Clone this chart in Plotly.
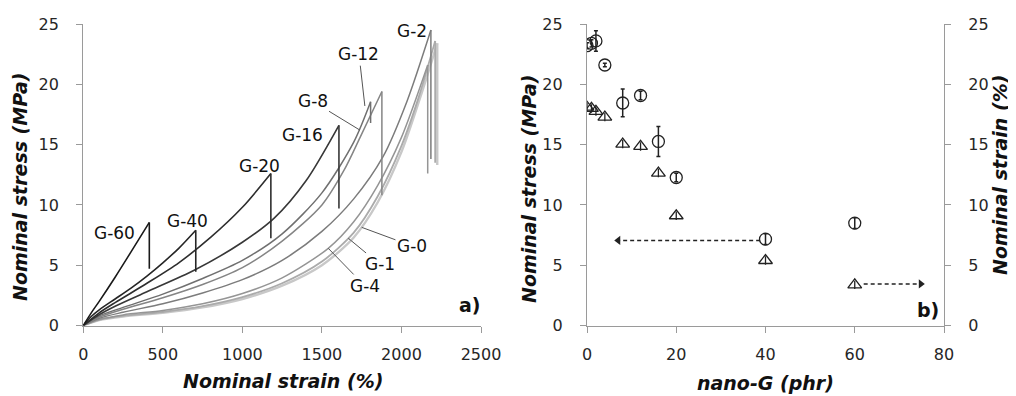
import plotly.graph_objects as go

# ---------------- Panel a: stress-strain curves (last point = drop after break) ----------------
g60_strain = [0, 50, 100, 200, 300, 415, 415]
g60_stress = [0, 1.05, 2.0, 4.0, 6.1, 8.55, 4.7]
g40_strain = [0, 50, 100, 200, 300, 400, 500, 600, 707, 707]
g40_stress = [0, 0.75, 1.3, 2.2, 3.1, 4.1, 5.2, 6.4, 7.9, 4.46]
g20_strain = [0, 100, 200, 400, 600, 800, 1000, 1179, 1179]
g20_stress = [0, 1.05, 1.9, 3.5, 5.2, 7.3, 9.8, 12.6, 7.23]
g16_strain = [0, 100, 200, 400, 700, 1000, 1200, 1400, 1607, 1607]
g16_stress = [0, 0.9, 1.6, 2.8, 4.6, 6.9, 8.9, 12.0, 16.6, 9.7]
g12_strain = [0, 100, 250, 500, 750, 1000, 1250, 1500, 1700, 1806, 1806]
g12_stress = [0, 0.8, 1.5, 2.6, 3.9, 5.4, 7.6, 11.0, 15.2, 18.55, 16.8]
g8_strain = [0, 100, 250, 500, 750, 1000, 1250, 1500, 1640, 1740, 1877, 1877]
g8_stress = [0, 0.7, 1.35, 2.3, 3.4, 4.8, 7.0, 10.0, 12.9, 15.6, 19.4, 10.8]
g2_strain = [0, 100, 250, 500, 750, 1000, 1250, 1500, 1700, 1884, 2035, 2185, 2185]
g2_stress = [0, 0.6, 1.1, 1.8, 2.7, 3.8, 5.4, 7.8, 10.5, 14.0, 18.6, 24.5, 13.8]
g4_strain = [0, 100, 250, 500, 750, 1000, 1250, 1540, 1700, 1850, 2000, 2165, 2165]
g4_stress = [0, 0.5, 0.88, 1.25, 1.8, 2.65, 3.95, 6.4, 8.6, 11.6, 15.6, 21.6, 12.6]
g1_strain = [0, 100, 250, 500, 750, 1000, 1250, 1500, 1700, 1850, 2000, 2110, 2212, 2212]
g1_stress = [0, 0.47, 0.8, 1.12, 1.6, 2.35, 3.5, 5.3, 7.7, 10.7, 14.9, 19.0, 23.6, 13.5]
g0_strain = [0, 100, 250, 500, 750, 1000, 1250, 1500, 1700, 1850, 2000, 2120, 2225, 2225]
g0_stress = [0, 0.45, 0.75, 1.05, 1.5, 2.2, 3.3, 5.0, 7.3, 10.2, 14.4, 19.0, 23.4, 13.3]

curve_names = ["G-0", "G-1", "G-4", "G-2", "G-8", "G-12", "G-16", "G-20", "G-40", "G-60"]
curve_strains = [g0_strain, g1_strain, g4_strain, g2_strain, g8_strain, g12_strain,
                 g16_strain, g20_strain, g40_strain, g60_strain]
curve_stresses = [g0_stress, g1_stress, g4_stress, g2_stress, g8_stress, g12_stress,
                  g16_stress, g20_stress, g40_stress, g60_stress]
curve_colors = ["#c8c8c8", "#ababab", "#959595", "#7c7c7c", "#858585", "#707070",
                "#383838", "#2e2e2e", "#262626", "#1a1a1a"]
curve_widths = [2.4, 1.8, 1.5, 1.5, 1.5, 1.5, 1.6, 1.6, 1.6, 1.6]

# label text positions (data coords) and pointer tips
label_text = ["G-60", "G-40", "G-20", "G-16", "G-8", "G-12", "G-2", "G-0", "G-1", "G-4"]
label_x = [199, 658, 1105, 1381, 1441, 1733, 2066, 2066, 1865, 1770]
label_y = [7.67, 8.67, 13.23, 15.8, 18.6, 22.5, 24.4, 6.6, 5.06, 3.28]
tip_x = [None, None, None, None, 1739, 1770, None, 1750, 1666, 1540]
tip_y = [None, None, None, None, 16.2, 18.2, None, 8.14, 7.23, 6.4]

# ---------------- Panel b: properties vs nano-G content ----------------
nano_g = [0, 1, 2, 4, 8, 12, 16, 20, 40, 60]
stress_mpa = [23.2, 23.4, 23.6, 21.6, 18.45, 19.07, 15.26, 12.27, 7.16, 8.49]
stress_err = [0.25, 0.3, 0.85, 0.15, 1.15, 0.35, 1.25, 0.35, 0.45, 0.45]
strain_hundreds = [18.1, 18.0, 17.75, 17.28, 15.04, 14.85, 12.64, 9.1, 5.39, 3.37]
strain_err = [0.35, 0.35, 0.35, 0.35, 0.35, 0.35, 0.35, 0.35, 0.35, 0.35]

arrow_left_x = [38.8, 7.0]
arrow_left_y = [7.05, 7.05]
arrow_right_x = [62.0, 74.8]
arrow_right_y = [3.45, 3.45]

FONT = "DejaVu Sans"
TXT = "#262626"
AX = "#9a9a9a"

fig = go.Figure()

for name, xs, ys, col, w in zip(curve_names, curve_strains, curve_stresses, curve_colors, curve_widths):
    fig.add_trace(go.Scatter(x=xs[:-1], y=ys[:-1], mode="lines", line=dict(color=col, width=w, shape="spline", smoothing=0.8),
                             xaxis="x", yaxis="y", showlegend=False, name=name))
    fig.add_trace(go.Scatter(x=xs[-2:], y=ys[-2:], mode="lines", line=dict(color=col, width=w),
                             xaxis="x", yaxis="y", showlegend=False, name=name + " break"))

# Panel b traces
fig.add_trace(go.Scatter(x=arrow_left_x, y=arrow_left_y, mode="lines", line=dict(color="#222", width=1.5, dash="4px,3px"),
                         xaxis="x2", yaxis="y2", showlegend=False))
fig.add_trace(go.Scatter(x=arrow_left_x[-1:], y=arrow_left_y[-1:], mode="markers",
                         marker=dict(symbol="triangle-left", size=8, color="#222"),
                         xaxis="x2", yaxis="y2", showlegend=False))
fig.add_trace(go.Scatter(x=arrow_right_x, y=arrow_right_y, mode="lines", line=dict(color="#222", width=1.5, dash="4px,3px"),
                         xaxis="x2", yaxis="y3", showlegend=False))
fig.add_trace(go.Scatter(x=arrow_right_x[-1:], y=arrow_right_y[-1:], mode="markers",
                         marker=dict(symbol="triangle-right", size=8, color="#222"),
                         xaxis="x2", yaxis="y3", showlegend=False))

fig.add_trace(go.Scatter(x=nano_g, y=stress_mpa, mode="markers",
                         marker=dict(symbol="circle-open", size=12, color="#222", line=dict(width=1.3)),
                         error_y=dict(type="data", array=stress_err, color="#222", thickness=1.5, width=2),
                         xaxis="x2", yaxis="y2", showlegend=False, name="Nominal stress"))
fig.add_trace(go.Scatter(x=nano_g, y=strain_hundreds, mode="markers",
                         marker=dict(symbol="triangle-up-open", size=12, color="#222", line=dict(width=1.3)),
                         error_y=dict(type="data", array=strain_err, color="#222", thickness=1.3, width=0),
                         xaxis="x2", yaxis="y3", showlegend=False, name="Nominal strain"))

# The page body has an 8px margin, so the figure is drawn from (8, 8) of the window.
OFF = 8
W, H = 1016 - OFF, 396 - OFF
def px(x):
    return (x - OFF) / W
def py(y):
    return 1 - (y - OFF) / H

axis_common = dict(showline=True, linecolor=AX, linewidth=1.3, ticks="outside", ticklen=6, tickcolor=AX,
                   tickwidth=1.3, showgrid=False, zeroline=False, automargin=False,
                   tickfont=dict(family=FONT, size=16, color=TXT))

fig.update_layout(
    width=W, height=H,
    margin=dict(l=0, r=0, t=0, b=0),
    paper_bgcolor="white", plot_bgcolor="white",
    xaxis=dict(domain=[px(83.3), px(481)], anchor="y", range=[0, 2500], dtick=500, ticklabelstandoff=8, **axis_common),
    yaxis=dict(domain=[py(325.5), py(24)], anchor="x", range=[0, 25], dtick=5, ticklabelstandoff=14, **axis_common),
    xaxis2=dict(domain=[px(587), px(944)], anchor="y2", range=[0, 80], dtick=20, ticklabelstandoff=8, **axis_common),
    yaxis2=dict(domain=[py(325.5), py(24)], anchor="x2", range=[0, 25], dtick=5, ticklabelstandoff=14, **axis_common),
    yaxis3=dict(overlaying="y2", anchor="x2", side="right", range=[0, 25], dtick=5, ticklabelstandoff=14, **axis_common),
)

annotations = []
for t, lx, ly, tx, ty in zip(label_text, label_x, label_y, tip_x, tip_y):
    if tx is None:
        annotations.append(dict(x=lx, y=ly, xref="x", yref="y", text=t, showarrow=False,
                                xanchor="center", yanchor="middle",
                                font=dict(family=FONT, size=17, color="#111")))
    else:
        annotations.append(dict(x=tx, y=ty, xref="x", yref="y", ax=lx, ay=ly, axref="x", ayref="y",
                                text=t, showarrow=True, arrowhead=0, arrowwidth=1, arrowcolor="#555",
                                font=dict(family=FONT, size=17, color="#111")))

title_font = dict(family=FONT, size=19, color="#111")
def paper_note(x, y, text, angle=0, font=title_font):
    return dict(x=px(x), y=py(y), xref="paper", yref="paper", text=text, textangle=angle,
                showarrow=False, xanchor="center", yanchor="middle", font=font)

annotations += [
    paper_note(20, 187, "<b><i>Nominal stress (MPa)</i></b>", -90),
    paper_note(282.5, 381, "<b><i>Nominal strain (%)</i></b>"),
    paper_note(529, 189, "<b><i>Nominal stress (MPa)</i></b>", -90),
    paper_note(1000, 175, "<b><i>Nominal strain (%)</i></b>", -90),
    paper_note(765, 383, "<b><i>nano-G (phr)</i></b>"),
    paper_note(470, 305, "<b>a)</b>"),
    paper_note(928, 310, "<b>b)</b>"),
]
fig.update_layout(annotations=annotations)

fig.write_html("out.html")
